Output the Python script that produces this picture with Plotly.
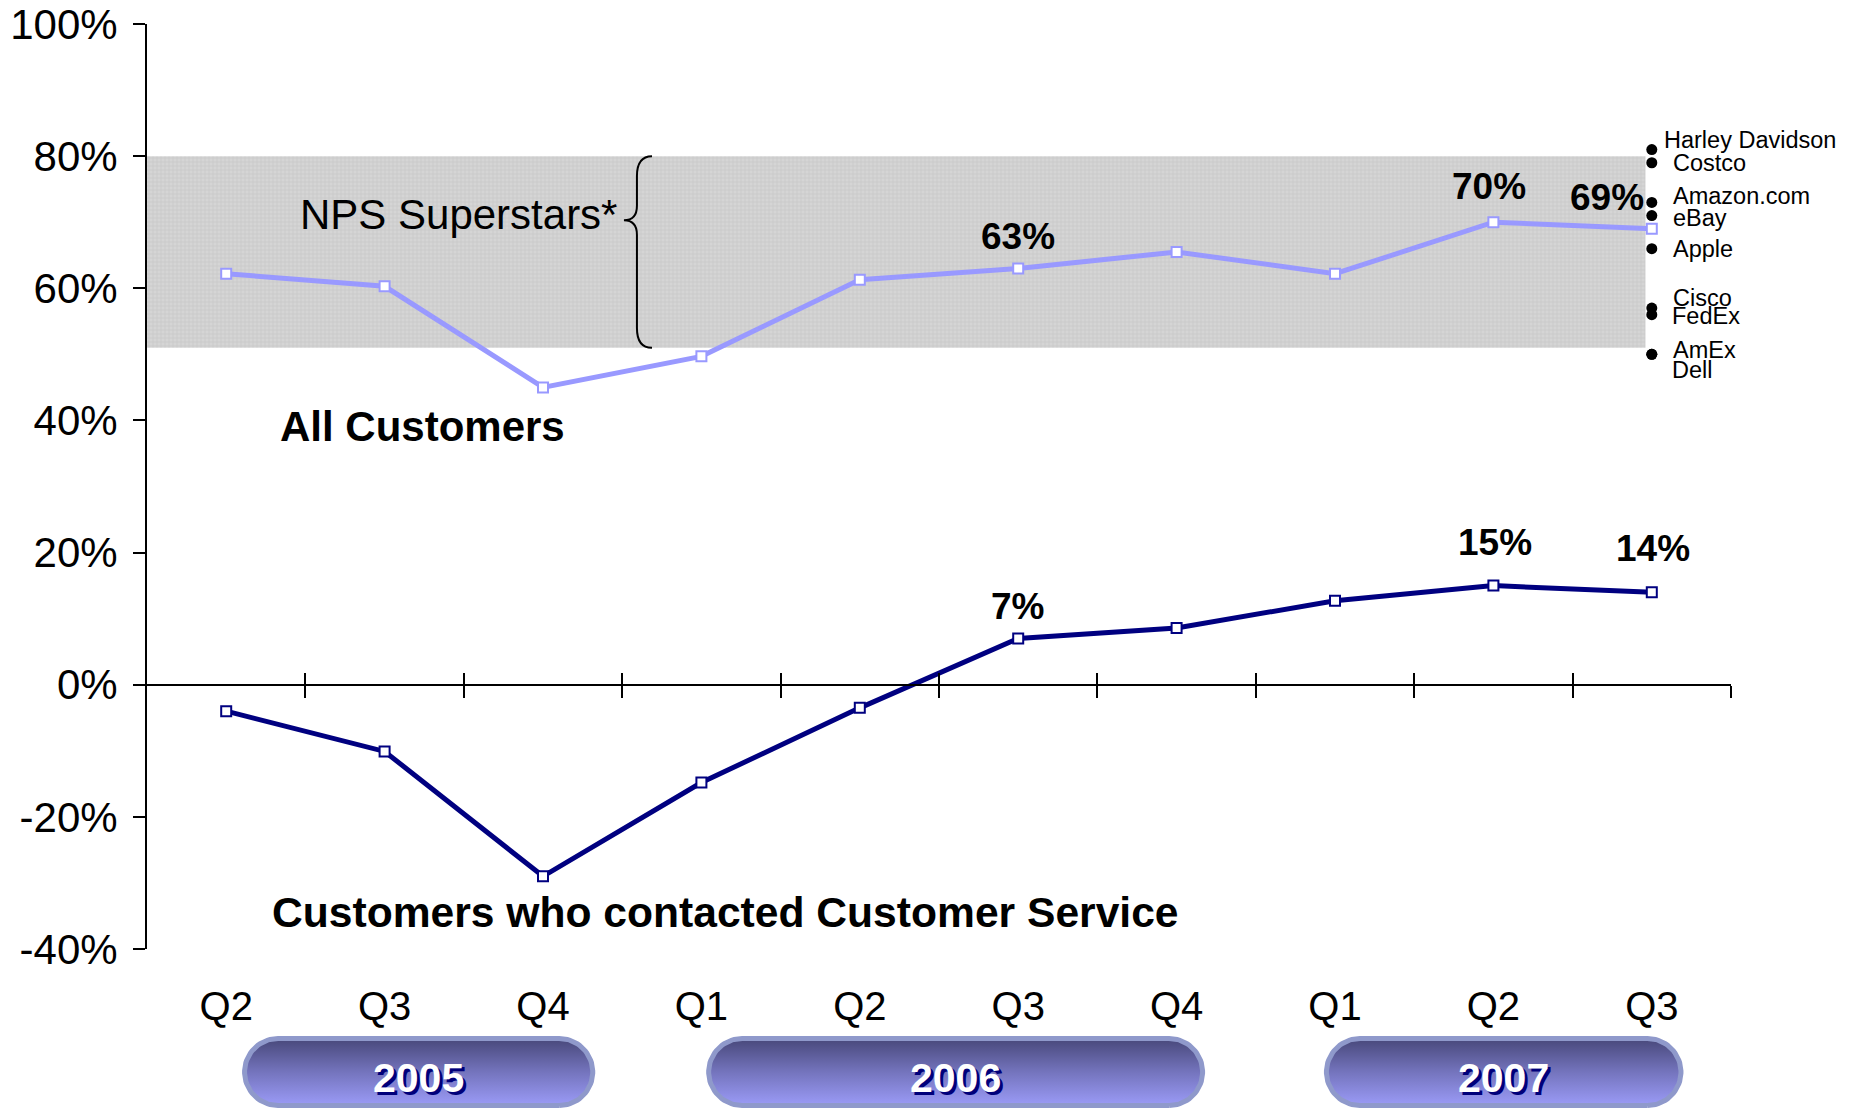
import numpy as np
import plotly.graph_objects as go

# ---- data -------------------------------------------------------------
quarters = ["Q2", "Q3", "Q4", "Q1", "Q2", "Q3", "Q4", "Q1", "Q2", "Q3"]
years = ["2005", "2006", "2007"]
all_customers = [62.2, 60.3, 45.0, 49.7, 61.3, 63, 65.5, 62.2, 70, 69]
contacted_cs = [-4.0, -10.1, -29.0, -14.8, -3.5, 7, 8.6, 12.7, 15, 14]
labelled_quarters = [5, 8, 9]
superstar_names = ["Harley Davidson", "Costco", "Amazon.com", "eBay", "Apple",
                   "Cisco", "FedEx", "AmEx", "Dell"]
superstar_nps = [81, 79, 73, 71, 66, 57, 56, 50, 50]
superstar_range = [51, 80]
y_ticks = [100, 80, 60, 40, 20, 0, -20, -40]

# ---- page geometry ----------------------------------------------------
W, H = 1860, 1110
L, R, T = 147, 129, 24
PLOT_BOTTOM = 949                      # pixel row of the -40% gridline
main_bottom = (H - PLOT_BOTTOM) / (H - T)
n_q = len(quarters)
ppu = (W - L - R) / n_q                # pixels per quarter
y_min, y_max = -40, 100
zero_pos = main_bottom + (0 - y_min) / (y_max - y_min) * (1 - main_bottom)

FONT = "Liberation Sans, Arial, Helvetica, sans-serif"
LIGHT = "#9999ff"
NAVY = "#000080"

x_idx = list(range(n_q))
boundaries = [i + 0.5 for i in range(n_q)]

fig = go.Figure()

# NPS superstar band (textured grey)
band_right = 8.96
fig.add_trace(go.Scatter(
    x=[-0.5, band_right, band_right, -0.5, -0.5],
    y=[superstar_range[0], superstar_range[0], superstar_range[1], superstar_range[1], superstar_range[0]],
    mode="lines", line=dict(width=0), fill="toself", fillcolor="#d2d2d2",
    fillpattern=dict(shape="+", fgcolor="#b6b6b6", bgcolor="#d5d5d5", size=4, solidity=0.3),
    hoverinfo="skip", showlegend=False))

# main series
for vals, col in [(all_customers, LIGHT), (contacted_cs, NAVY)]:
    fig.add_trace(go.Scatter(
        x=x_idx, y=vals, mode="lines+markers",
        line=dict(color=col, width=5),
        marker=dict(symbol="square", size=10, color="white", line=dict(color=col, width=2)),
        showlegend=False, cliponaxis=False))

# superstar company benchmarks
fig.add_trace(go.Scatter(
    x=[n_q - 1] * len(superstar_nps), y=superstar_nps, mode="markers",
    marker=dict(symbol="circle", size=11, color="black"),
    showlegend=False, cliponaxis=False))

# placeholders so the zero-line axes get drawn
for ax in ["x2", "x3"]:
    fig.add_trace(go.Scatter(x=[None], y=[None], xaxis=ax, yaxis="y",
                             showlegend=False, hoverinfo="skip"))

# ---- year pills ---------------------------------------------------------
year_spans = [(0.10, 2.33), (3.03, 6.18), (6.93, 9.20)]
pill_top, pill_bottom, stroke = 74, 2, 5


def stadium(u0, u1, y0, y1, n=40):
    px0 = (u0 + 0.5) * ppu
    px1 = (u1 + 0.5) * ppu
    r = (y1 - y0) / 2
    cy = (y0 + y1) / 2
    a = np.linspace(-np.pi / 2, np.pi / 2, n)
    xr = px1 - r + r * np.cos(a)
    yr = cy + r * np.sin(a)
    b = np.linspace(np.pi / 2, 3 * np.pi / 2, n)
    xl = px0 + r + r * np.cos(b)
    yl = cy + r * np.sin(b)
    xs = np.concatenate([xr, xl, xr[:1]]) / ppu - 0.5
    ys = np.concatenate([yr, yl, yr[:1]])
    return xs, ys


inset = stroke / 2
for (u0, u1), yr_label in zip(year_spans, years):
    xs, ys = stadium(u0 + inset / ppu, u1 - inset / ppu,
                     pill_bottom + inset, pill_top - inset)
    fig.add_trace(go.Scatter(
        x=xs, y=ys, xaxis="x", yaxis="y3", mode="lines",
        line=dict(color="#8f99cb", width=stroke),
        fill="toself",
        fillgradient=dict(type="vertical",
                          colorscale=[[0, "#9b9bf7"], [0.5, "#7474bd"], [1, "#48487a"]]),
        hoverinfo="skip", showlegend=False))
    fig.add_annotation(
        x=(u0 + u1) / 2, y=32, xref="x", yref="y3", text=yr_label, showarrow=False,
        font=dict(family=FONT, size=41, color="white", weight="bold",
                  shadow="3px 3px 0px #00007a"))

# ---- value labels -------------------------------------------------------
light_offsets = {5: (0, 32), 8: (-4, 36), 9: (-45, 31)}
navy_offsets = {5: (-1, 32), 8: (2, 43), 9: (1, 44)}
for vals, offs in [(all_customers, light_offsets), (contacted_cs, navy_offsets)]:
    for i in labelled_quarters:
        dx, dy = offs[i]
        fig.add_annotation(
            x=i, y=vals[i], text=f"{vals[i]:.0f}%", showarrow=False,
            xshift=dx, yshift=dy,
            font=dict(family=FONT, size=37, color="black", weight="bold"))

# company names beside the benchmark dots
name_shifts = [(10, 10), (19, 0), (19, 6), (19, -2), (19, 0),
               (19, 10), (18, -1), (19, 4), (18, -16)]
for name, v, (dx, dy) in zip(superstar_names, superstar_nps, name_shifts):
    fig.add_annotation(
        x=n_q - 1, y=v, text=name, showarrow=False, xanchor="left",
        xshift=dx, yshift=dy,
        font=dict(family=FONT, size=23.5, color="black"))

# series and band captions
fig.add_annotation(x=2.48, y=71.2, text="NPS Superstars*", showarrow=False,
                   xanchor="right", font=dict(family=FONT, size=42, color="black"))
fig.add_annotation(x=0.327, y=39.1, text="All Customers", showarrow=False,
                   xanchor="left", font=dict(family=FONT, size=42, color="black", weight="bold"))
fig.add_annotation(x=0.275, y=-34.4, text="Customers who contacted Customer Service",
                   showarrow=False, xanchor="left",
                   font=dict(family=FONT, size=42.6, color="black", weight="bold"))

# curly brace marking the superstar band
xr_, xs_, xt_ = 2.688, 2.593, 2.511
lo, hi, tip = superstar_range[0], superstar_range[1], 70.3
brace = (f"M {xr_},{hi} Q {xs_},{hi} {xs_},{hi - 3} L {xs_},{tip + 2.2} "
         f"Q {xs_},{tip} {xt_},{tip} Q {xs_},{tip} {xs_},{tip - 2.2} "
         f"L {xs_},{lo + 3} Q {xs_},{lo} {xr_},{lo}")
fig.add_shape(type="path", path=brace, xref="x", yref="y",
              line=dict(color="black", width=2))

# ---- axes ---------------------------------------------------------------
x_range = [-0.5, n_q - 0.5]
fig.update_layout(
    width=W, height=H, margin=dict(l=L, r=R, t=T, b=0, autoexpand=False),
    paper_bgcolor="white", plot_bgcolor="white",
    font=dict(family=FONT, color="black"),
    xaxis=dict(range=x_range, tickvals=x_idx, ticktext=quarters, ticks="",
               showline=False, showgrid=False, zeroline=False, anchor="y",
               tickfont=dict(size=40), ticklabelstandoff=30, automargin=False),
    xaxis2=dict(range=x_range, overlaying="x", anchor="free", position=zero_pos,
                tickvals=boundaries, ticks="outside", ticklen=12, tickwidth=2,
                tickcolor="black", showticklabels=False, showline=True,
                linecolor="black", linewidth=2, showgrid=False, zeroline=False,
                automargin=False),
    xaxis3=dict(range=x_range, overlaying="x", anchor="free", position=zero_pos,
                tickvals=boundaries, ticks="inside", ticklen=12, tickwidth=2,
                tickcolor="black", showticklabels=False, showline=False,
                showgrid=False, zeroline=False, automargin=False),
    yaxis=dict(domain=[main_bottom, 1], range=[y_min, y_max], tickvals=y_ticks,
               ticktext=[f"{t}%" for t in y_ticks], ticks="outside", ticklen=12,
               tickwidth=2, tickcolor="black", showline=True, linecolor="black",
               linewidth=2, showgrid=False, zeroline=False,
               tickfont=dict(size=42), ticklabelstandoff=7, automargin=False),
    yaxis3=dict(domain=[0, main_bottom], range=[0, H - PLOT_BOTTOM], visible=False,
                anchor="x", automargin=False),
    showlegend=False,
)

fig.write_html("out.html")
